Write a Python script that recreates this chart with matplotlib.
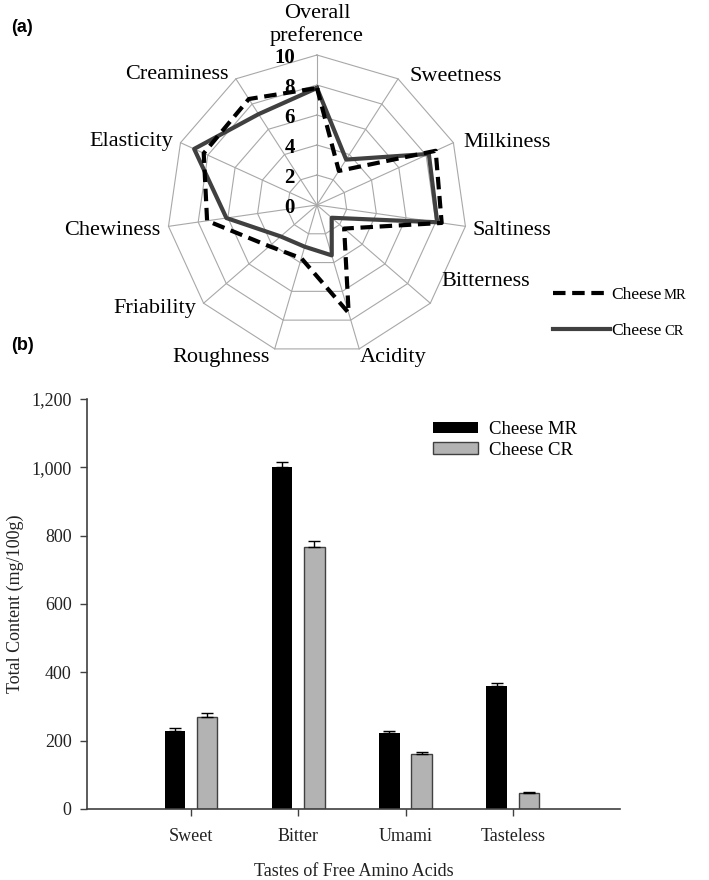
import numpy as np
import matplotlib
matplotlib.use("Agg")
import matplotlib.pyplot as plt
from matplotlib.ticker import FuncFormatter

plt.rcParams['font.family'] = ['Liberation Serif', 'DejaVu Serif']

# --- (a) sensory radar data ---
attributes = ['Overall\npreference', 'Sweetness', 'Milkiness', 'Saltiness',
              'Bitterness', 'Acidity', 'Roughness', 'Friability',
              'Chewiness', 'Elasticity', 'Creaminess']
radar_mr = [7.8, 2.7, 8.7, 8.4, 2.4, 7.5, 3.7, 4.2, 7.4, 8.3, 8.4]
radar_cr = [7.8, 3.6, 8.2, 8.1, 1.3, 3.5, 2.9, 3.2, 6.1, 9.0, 7.2]
radar_levels = [0, 2, 4, 6, 8, 10]

# --- (b) free amino acid data ---
tastes = ['Sweet', 'Bitter', 'Umami', 'Tasteless']
aa_mr = [229, 1000, 223, 359]
aa_mr_err = [7, 15, 6, 10]
aa_cr = [270, 766, 161, 48]
aa_cr_err = [10, 18, 5, 3]

grid_col = '#a8a8a8'
cr_col = '#404040'

fig = plt.figure(figsize=(7.09, 8.8), dpi=100)

# ---------------- radar ----------------
ax1 = fig.add_axes([0.2355, 0.5966, 0.4231, 0.3409], projection='polar')
ax1.set_theta_zero_location('N')
ax1.set_theta_direction(-1)
ax1.set_ylim(0, radar_levels[-1])
ax1.grid(False)
ax1.spines['polar'].set_visible(False)
ax1.set_xticks([])
ax1.set_yticks([])
ax1.patch.set_alpha(0)

n = len(attributes)
ang = np.linspace(0, 2 * np.pi, n, endpoint=False)
ang_c = np.append(ang, ang[0])

for lv in radar_levels[1:]:
    ax1.plot(ang_c, [lv] * (n + 1), color=grid_col, lw=0.8, clip_on=False, zorder=1)
for a in ang:
    ax1.plot([a, a], [0, radar_levels[-1]], color=grid_col, lw=0.8, clip_on=False, zorder=1)

l_mr, = ax1.plot(ang_c, radar_mr + radar_mr[:1], color='black', lw=3,
                 ls=(0, (3, 1.6)), clip_on=False, zorder=3, label='Cheese')
l_cr, = ax1.plot(ang_c, radar_cr + radar_cr[:1], color=cr_col, lw=3,
                 clip_on=False, zorder=2, label='Cheese')

for lv in radar_levels:
    ax1.annotate(str(lv), xy=(0, lv), xytext=(-22, -3), textcoords='offset pixels',
                 ha='right', va='center', fontsize=15, fontweight='bold')

# label offsets (pixels) and alignment for each attribute
lab_pos = [((0, 9), 'center', 'bottom'), ((11, 2), 'left', 'center'),
           ((10, 0), 'left', 'center'), ((7, -4), 'left', 'center'),
           ((11, 22), 'left', 'center'), ((1, -9), 'left', 'center'),
           ((-5, -9), 'right', 'center'), ((-7, -5), 'right', 'center'),
           ((-8, -4), 'right', 'center'), ((-7, 1), 'right', 'center'),
           ((-7, 4), 'right', 'center')]
for a, name, (off, ha, va) in zip(ang, attributes, lab_pos):
    ax1.annotate(name, xy=(a, radar_levels[-1]), xytext=off, textcoords='offset pixels',
                 ha=ha, va=va, fontsize=16, multialignment='center',
                 linespacing=1.2, annotation_clip=False)

leg1 = fig.legend(handles=[l_mr, l_cr], loc='upper left',
                  bbox_to_anchor=(553 / 709, 1 - 287 / 880), frameon=False,
                  fontsize=12.5, handlelength=3.3, handletextpad=0.08,
                  labelspacing=1.15, borderpad=0, borderaxespad=0)

fig.text(11 / 709, 1 - 27 / 880, '(a)', fontsize=13, fontweight='bold',
         family='Liberation Sans', va='center')

# ---------------- bars ----------------
ax2 = fig.add_axes([0.1227, 0.0807, 0.7518, 0.4659])
x = np.arange(1, len(tastes) + 1)
w = 0.19
ekw = dict(elinewidth=1, capthick=1, ecolor='black')
ax2.bar(x - 0.15, aa_mr, w, color='black', label='Cheese MR',
        yerr=[np.zeros(len(aa_mr)), aa_mr_err], capsize=4.5, error_kw=ekw)
ax2.bar(x + 0.15, aa_cr, w, color='#b3b3b3', edgecolor=cr_col, lw=1, label='Cheese CR',
        yerr=[np.zeros(len(aa_cr)), aa_cr_err], capsize=4.5, error_kw=ekw)

ax2.set_xlim(0.03, 5.0)
ax2.set_ylim(0, 1200)
ax2.set_yticks(range(0, 1201, 200))
ax2.yaxis.set_major_formatter(FuncFormatter(lambda v, p: '{:,.0f}'.format(v)))
ax2.set_xticks(x)
ax2.set_xticklabels(tastes)
for s in ['top', 'right']:
    ax2.spines[s].set_visible(False)
for s in ['left', 'bottom']:
    ax2.spines[s].set_color(cr_col)
    ax2.spines[s].set_linewidth(1.2)
ax2.tick_params(axis='both', direction='out', length=5, width=1, color=cr_col,
                labelsize=13, labelcolor='#222222')
ax2.tick_params(axis='y', pad=6)
ax2.tick_params(axis='x', pad=9)

ax2.set_ylabel('Total Content (mg/100g)', fontsize=13, color='#222222')
ax2.yaxis.set_label_coords(-0.118, 0.5)
ax2.set_xlabel('Tastes of Free Amino Acids', fontsize=13, color='#222222')
ax2.xaxis.set_label_coords(0.5, -0.132)

ax2.legend(loc='upper left', bbox_to_anchor=(0.649, 0.946), frameon=False,
           fontsize=13.5, handlelength=2.4, handleheight=0.6, handletextpad=0.6,
           labelspacing=0.2, borderpad=0, borderaxespad=0)

fig.text(11 / 709, 1 - 345 / 880, '(b)', fontsize=13, fontweight='bold',
         family='Liberation Sans', va='center')

# small sample codes after "Cheese" in the radar legend
fig.canvas.draw()
for t, code in zip(leg1.get_texts(), ['MR', 'CR']):
    bb = t.get_window_extent()
    fx, fy = fig.transFigure.inverted().transform((bb.x1 + 2, bb.y0 + 1))
    fig.text(fx, fy, code, fontsize=10.5, va='bottom', ha='left')

fig.savefig('out.png', dpi=100)
